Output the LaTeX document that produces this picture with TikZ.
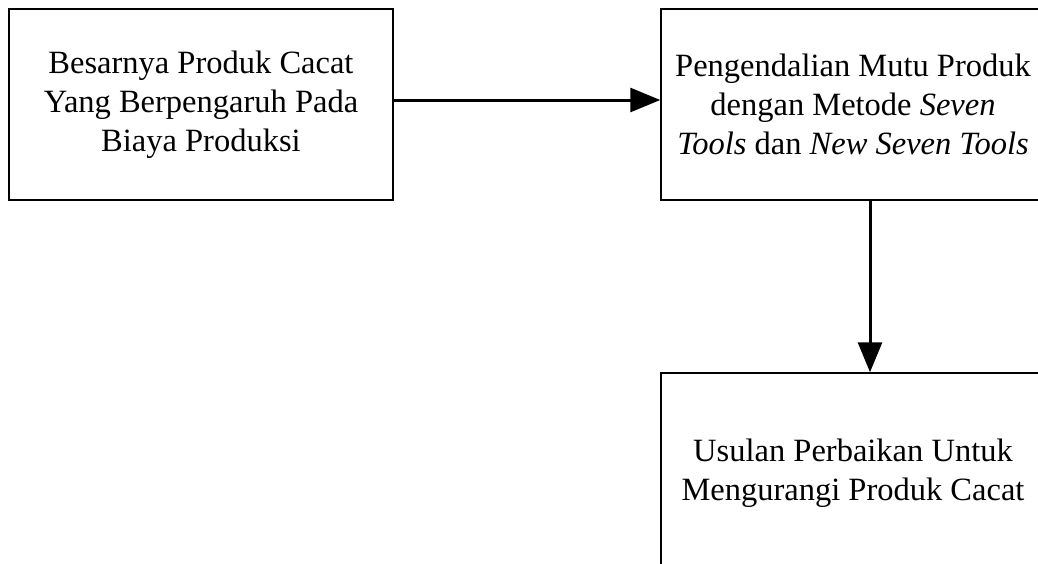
\documentclass[tikz,border=0pt]{standalone}
\usepackage{fontspec}
\setmainfont{Liberation Serif}
\usetikzlibrary{arrows.meta}
\tikzset{
  box/.style={draw, line width=1.5pt, minimum width=384pt, minimum height=191pt,
    align=center, font=\fontsize{32.5}{39}\selectfont, inner sep=0pt},
  flow/.style={line width=3pt, -{Triangle[length=30pt,width=24pt]}}
}
\begin{document}
\begin{tikzpicture}[x=1pt,y=1pt]
      \useasboundingbox (0,0) rectangle (1038,-563);
      \clip (0,0) rectangle (1038,-563);
      \draw
        (201,-104.5) node[box] (cacat){Besarnya Produk Cacat\\Yang Berpengaruh Pada\\Biaya Produksi}
        (853,-104.5) node[box] (mutu){Pengendalian Mutu Produk\\dengan Metode \textit{Seven}\\\textit{Tools} dan \textit{New Seven Tools}}
        (853,-473) node[box, minimum height=200pt] (usulan){Usulan Perbaikan Untuk\\Mengurangi Produk Cacat};
      \begin{scope}[flow]
        \draw ([yshift=4.5pt]cacat.east) to ([yshift=4.5pt]mutu.west);
        \draw (mutu.south -| 870,0) to (usulan.north -| 870,0);
      \end{scope}
    \end{tikzpicture}
\end{document}
